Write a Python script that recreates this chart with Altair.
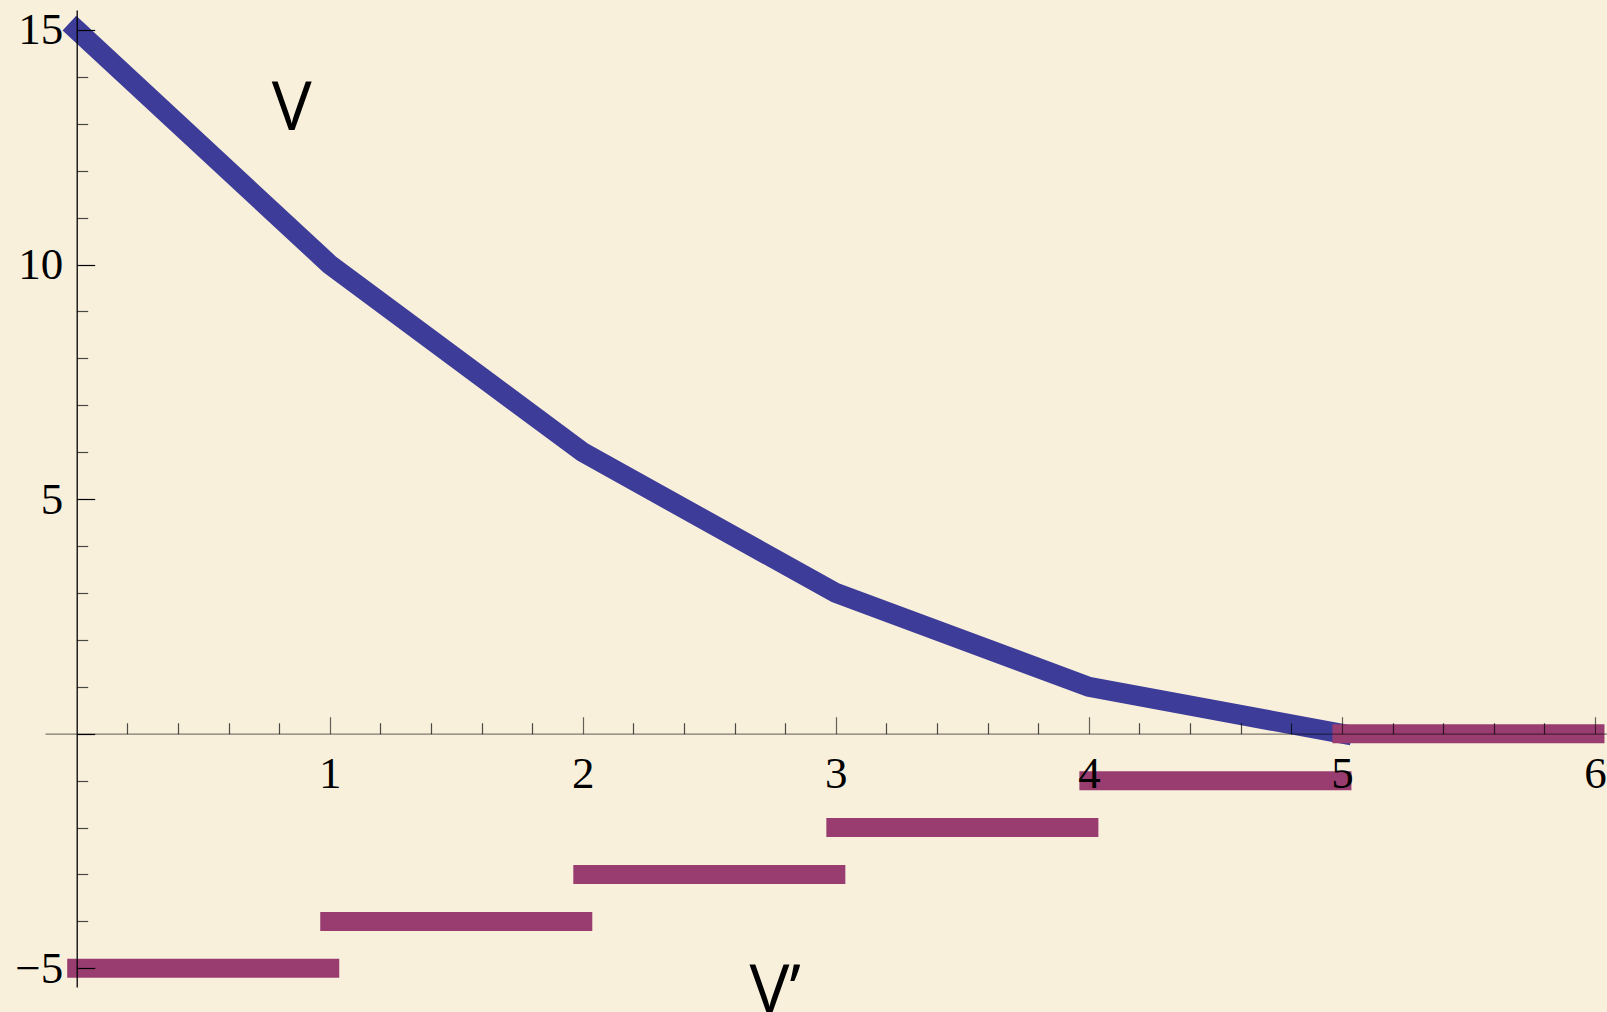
import altair as alt
import pandas as pd

# V sampled at the integer states
v_x = [0, 1, 2, 3, 4, 5]
v_y = [15, 10, 6, 3, 1, 0]

# V' is constant on each unit interval
dv_start = [0, 1, 2, 3, 4, 5]
dv_end = [1, 2, 3, 4, 5, 6]
dv_value = [-5, -4, -3, -2, -1, 0]

# curve names placed next to the curves
name_text = ["V", "V\u2019"]
name_x = [0.85, 2.76]
name_y = [12.87, -5.95]

# tick positions
x_label_ticks = [1, 2, 3, 4, 5, 6]
x_major_ticks = [1, 2, 3, 4, 5, 6]
x_minor_ticks = [0.2, 0.4, 0.6, 0.8, 1.2, 1.4, 1.6, 1.8, 2.2, 2.4, 2.6, 2.8,
                 3.2, 3.4, 3.6, 3.8, 4.2, 4.4, 4.6, 4.8, 5.2, 5.4, 5.6, 5.8]
y_label_ticks = [-5, 5, 10, 15]
y_major_ticks = [-5, 0, 5, 10, 15]
y_minor_ticks = [-4, -3, -2, -1, 1, 2, 3, 4, 6, 7, 8, 9, 11, 12, 13, 14]

# plot area and ranges
W, H = 1562, 977
X_DOMAIN = [-0.1253, 6.0475]
Y_DOMAIN = [-5.398, 15.424]
BG = "#f9f0dc"
BLUE = "#3d3d99"
PURPLE = "#993d71"

# pixel position of the origin inside the plot area (axes cross there)
x0 = W * (0 - X_DOMAIN[0]) / (X_DOMAIN[1] - X_DOMAIN[0])
y0 = H * (Y_DOMAIN[1] - 0) / (Y_DOMAIN[1] - Y_DOMAIN[0])

xs = alt.Scale(domain=X_DOMAIN, nice=False, zero=False)
ys = alt.Scale(domain=Y_DOMAIN, nice=False, zero=False)

LABEL_FONT = "Liberation Serif"
LABEL_SIZE = 45

x_axis_labels = alt.Axis(
    orient="bottom", offset=-(H - y0), values=x_label_ticks, format="d",
    ticks=False, tickSize=0, domain=False, grid=False, title=None,
    labelFont=LABEL_FONT, labelFontSize=LABEL_SIZE, labelColor="black",
    labelPadding=18, labelFlush=False, labelOverlap=False, zindex=1)
x_axis_major = alt.Axis(
    orient="top", offset=-y0, values=x_major_ticks, labels=False, grid=False,
    title=None, ticks=True, tickSize=17, tickColor="black", tickOpacity=0.6,
    tickWidth=1.2, domain=True, domainColor="black", domainOpacity=0.5,
    domainWidth=1.3, zindex=1)
x_axis_minor = alt.Axis(
    orient="top", offset=-y0, values=x_minor_ticks, labels=False, grid=False,
    title=None, ticks=True, tickSize=11, tickColor="black", tickOpacity=0.7,
    tickWidth=1.2, domain=False, zindex=1)

y_axis_labels = alt.Axis(
    orient="left", offset=-x0, values=y_label_ticks, format="d",
    ticks=False, tickSize=0, domain=True, domainColor="black",
    domainWidth=1.3, grid=False, title=None,
    labelFont=LABEL_FONT, labelFontSize=LABEL_SIZE, labelColor="black",
    labelPadding=14, labelFlush=False, labelOverlap=False, zindex=1)
y_axis_major = alt.Axis(
    orient="right", offset=-(W - x0), values=y_major_ticks, labels=False,
    grid=False, title=None, ticks=True, tickSize=18, tickColor="black",
    tickWidth=1.2, domain=False, zindex=1)
y_axis_minor = alt.Axis(
    orient="right", offset=-(W - x0), values=y_minor_ticks, labels=False,
    grid=False, title=None, ticks=True, tickSize=11, tickColor="black",
    tickOpacity=0.7, tickWidth=1.2, domain=False, zindex=1)

v_df = pd.DataFrame({"x": v_x, "y": v_y})
dv_df = pd.DataFrame({"start": dv_start, "end": dv_end, "value": dv_value})
name_df = pd.DataFrame({"text": name_text, "x": name_x, "y": name_y})

v_line = alt.Chart(v_df).mark_line(
    color=BLUE, strokeWidth=20, strokeCap="square", strokeJoin="miter"
).encode(
    x=alt.X("x:Q", scale=xs, axis=x_axis_labels),
    y=alt.Y("y:Q", scale=ys, axis=y_axis_labels),
)

dv_steps = alt.Chart(dv_df).mark_rule(
    color=PURPLE, strokeWidth=19, strokeCap="square"
).encode(
    x=alt.X("start:Q", scale=xs, axis=x_axis_major),
    x2="end:Q",
    y=alt.Y("value:Q", scale=ys, axis=y_axis_major),
)

names = alt.Chart(name_df).mark_text(
    font="Open Sans", fontSize=67, align="center", baseline="alphabetic",
    color="black"
).encode(
    x=alt.X("x:Q", scale=xs, axis=x_axis_minor),
    y=alt.Y("y:Q", scale=ys, axis=y_axis_minor),
    text="text:N",
)

chart = (
    alt.layer(v_line, dv_steps, names)
    .resolve_axis(x="independent", y="independent")
    .properties(
        width=W, height=H,
        padding={"left": 45, "top": 10, "right": 0, "bottom": 25},
        autosize=alt.AutoSizeParams(type="none"),
        background=BG,
    )
    .configure_view(stroke=None)
)

chart.save("out.html", embed_options={"renderer": "svg", "actions": False})
